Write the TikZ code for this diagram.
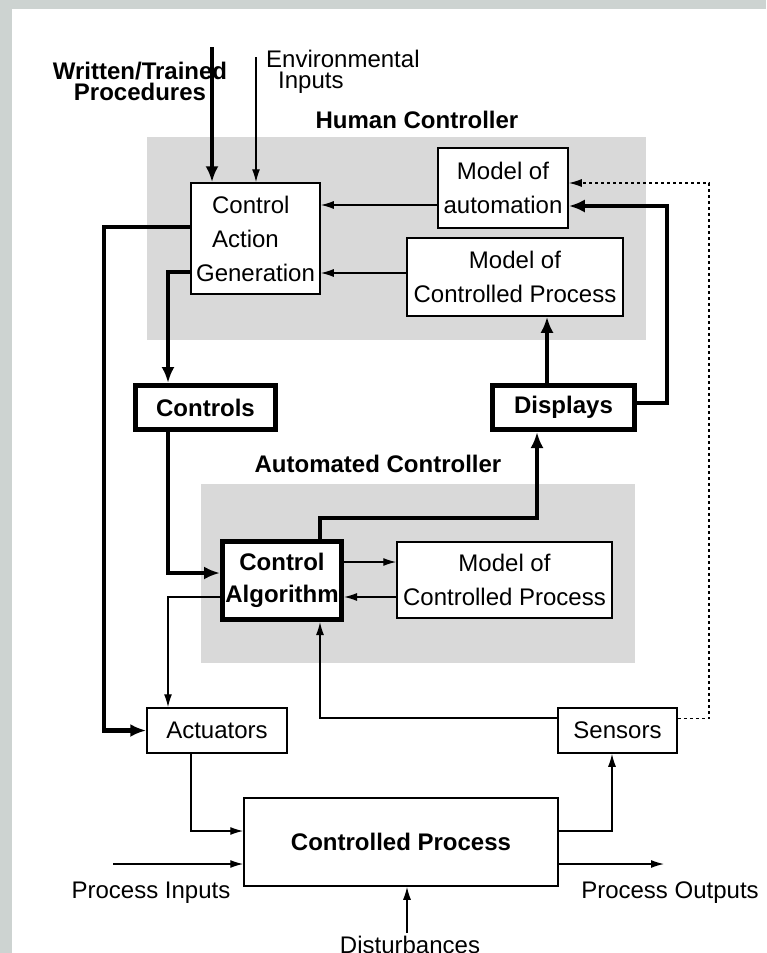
\documentclass[tikz,border=0pt]{standalone}
\usepackage{fontspec}
\setmainfont{Liberation Sans}
\usetikzlibrary{arrows.meta}

\definecolor{grisBloque}{HTML}{D9D9D9}
\definecolor{grisMarco}{HTML}{CDD3D1}

\begin{document}
\begin{tikzpicture}[
		x=1pt, y=-1pt,
		font=\fontsize{24}{34}\selectfont,
		% Estilos: cajas finas, cajas gruesas y los dos tipos de flecha
		myBox/.style={draw, line width=1.5pt, fill=white, inner sep=0pt, align=center},
		myThickBox/.style={myBox, line width=5pt, font=\fontsize{24}{32}\selectfont\bfseries},
		myTitle/.style={inner sep=0pt, font=\fontsize{24}{21}\selectfont\bfseries},
		thinArrow/.style={line width=1.3pt, -{Latex[length=13pt, width=8pt]}},
		thickArrow/.style={line width=4.5pt, -{Latex[length=16pt, width=13pt]}},
		dottedArrow/.style={thinArrow, dash pattern=on 3pt off 3pt}
	]

	% --- 0. Fondo, marco y zonas grises ---
	\useasboundingbox (0,0) rectangle (766,953);
	\fill[white] (0,0) rectangle (766,953);
	\fill[grisMarco] (0,0) rectangle (12,953);
	\fill[grisMarco] (0,0) rectangle (766,9);

	\fill[grisBloque] (147,137) rectangle (646,340);
	\fill[grisBloque] (201,484) rectangle (635,663);

	% --- 1. Definición de Nodos ---
	% Coordenadas en píxeles, con el eje y hacia abajo

	\node[myTitle, align=center, anchor=north] (procTxt) at (140,62) {Written/Trained\\Procedures};
	\node[anchor=north west, inner sep=0pt, align=left, font=\fontsize{24}{21}\selectfont] (envTxt) at (266,50) {Environmental\\\hspace*{12pt}Inputs};
	\node[myTitle] (humanTitle) at (417,120) {Human Controller};
	\node[myTitle] (autoTitle) at (378,464) {Automated Controller};

	\node[myBox, align=left, minimum width=129pt, minimum height=111pt] (cag) at (255.5,238.5) {\hspace*{16pt}Control\\\hspace*{16pt}Action\\Generation};
	\node[myBox, minimum width=130pt, minimum height=80pt] (modAuto) at (503,188) {Model of\\automation};
	\node[myBox, minimum width=216pt, minimum height=78pt] (modProcH) at (515,277) {Model of\\Controlled Process};

	\node[myThickBox, minimum width=140pt, minimum height=44pt] (controls) at (205.5,407.5) {Controls};
	\node[myThickBox, minimum width=142pt, minimum height=44pt] (displays) at (563.5,407.5) {Displays};

	\node[myThickBox, minimum width=119pt, minimum height=78pt] (ctrlAlg) at (282,580.5) {Control\\Algorithm};
	\node[myBox, minimum width=215pt, minimum height=76pt] (modProcA) at (504.5,580) {Model of\\Controlled Process};

	\node[myBox, minimum width=140pt, minimum height=45pt] (act) at (217,730.5) {Actuators};
	\node[myBox, minimum width=119pt, minimum height=45pt] (sens) at (617.5,730.5) {Sensors};
	\node[myBox, minimum width=314pt, minimum height=88pt, font=\fontsize{24}{34}\selectfont\bfseries] (proc) at (401,842) {Controlled Process};

	\node (inTxt) at (151,893) {Process Inputs};
	\node (outTxt) at (670,893) {Process Outputs};
	\node (distTxt) at (410,945) {Disturbances};

	% Extremos libres y carriles de los codos
	\coordinate (procIn) at (212,47);
	\coordinate (envIn) at (256,57);
	\coordinate (inputIn) at (113,864);
	\coordinate (outputEnd) at (664,864);
	\coordinate (distIn) at (407,933);
	\coordinate (busLeft) at (104,0);
	\coordinate (busRight) at (667,0);
	\coordinate (busDotted) at (709,0);
	\coordinate (busAlg) at (0,518);

	% --- 2. Controlador humano ---
	\draw[thickArrow] (procIn) -- (procIn |- cag.north);
	\draw[thinArrow] (envIn) -- (envIn |- cag.north);
	\draw[thinArrow] ([yshift=-17pt]modAuto.west) -- ([yshift=-17pt]modAuto.west -| cag.east);
	\draw[thinArrow] ([yshift=4pt]modProcH.west) -- ([yshift=4pt]modProcH.west -| cag.east);
	\draw[thickArrow] ([yshift=11.5pt]cag.west) -- ([yshift=11.5pt]cag.west -| busLeft) |- (act.west);
	\draw[thickArrow] ([yshift=-33.5pt]cag.west) -| ([xshift=-37.5pt]controls.north);

	% --- 3. Pantallas y realimentación ---
	\draw[thickArrow] ([xshift=-16.5pt]displays.north) -- ([xshift=32pt]modProcH.south);
	\draw[thickArrow] ([yshift=4.5pt]displays.east) -- ([yshift=4.5pt]displays.east -| busRight) |- ([yshift=-18pt]modAuto.east);
	\draw[dottedArrow] ([yshift=12pt]sens.east) -- ([yshift=12pt]sens.east -| busDotted) |- ([yshift=5pt]modAuto.east);

	% --- 4. Controlador automático ---
	\draw[thickArrow] ([xshift=-37.5pt]controls.south) |- ([yshift=7.5pt]ctrlAlg.west);
	\draw[thickArrow] ([xshift=38pt]ctrlAlg.north) -- ([xshift=38pt]ctrlAlg.north |- busAlg) -| ([xshift=-26.5pt]displays.south);
	\draw[thinArrow] ([yshift=18.5pt]ctrlAlg.east) -- ([yshift=18.5pt]ctrlAlg.east -| modProcA.west);
	\draw[thinArrow] ([yshift=-17pt]modProcA.west) -- ([yshift=-17pt]modProcA.west -| ctrlAlg.east);
	\draw[thinArrow] ([yshift=-16.5pt]ctrlAlg.west) -| ([xshift=-49pt]act.north);
	\draw[thinArrow] ([yshift=12.5pt]sens.west) -| ([xshift=38pt]ctrlAlg.south);

	% --- 5. Proceso controlado ---
	\draw[thinArrow] ([xshift=-26pt]act.south) |- ([yshift=11pt]proc.west);
	\draw[thinArrow] ([yshift=11pt]proc.east) -| ([xshift=-5.5pt]sens.south);
	\draw[thinArrow] (inputIn) -- (inputIn -| proc.west);
	\draw[thinArrow] (proc.east |- outputEnd) -- (outputEnd);
	\draw[thinArrow] (distIn) -- (distIn |- proc.south);

\end{tikzpicture}
\end{document}
